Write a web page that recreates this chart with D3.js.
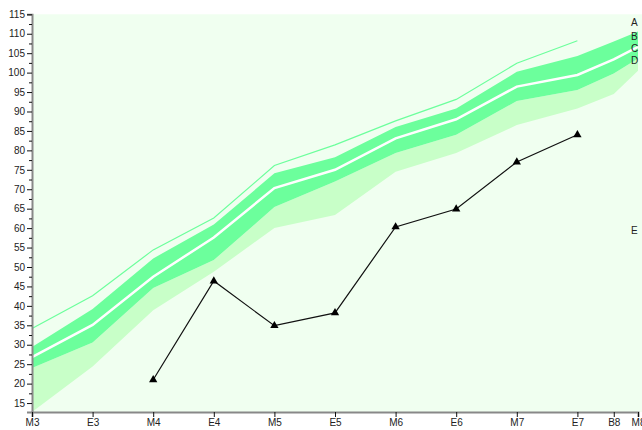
<!DOCTYPE html>
<html>
<head>
<meta charset="utf-8">
<script src="https://cdn.jsdelivr.net/npm/d3@7"></script>
<style>
  body { margin: 0; background: #fff; }
  svg { display: block; font-family: "Liberation Sans", Arial, sans-serif; }
  .tick text { font-size: 10px; fill: #222; }
  .label { font-size: 10px; fill: #222; }
</style>
</head>
<body>
<svg id="chart" width="642" height="430"></svg>
<script>
// x positions (month index) and their tick labels
const xVals = [3, 3.5, 4, 4.5, 5, 5.5, 6, 6.5, 7, 7.5, 7.8, 8];
const xLabels = ['M3', 'E3', 'M4', 'E4', 'M5', 'E5', 'M6', 'E6', 'M7', 'E7', 'B8', 'M8'];

// percentile bands
const outerLow = [12.7, 24.4, 38.9, 48.8, 60.0, 63.4, 74.5, 79.3, 86.5, 90.8, 94.5, 100.5];
const innerLow = [24.0, 30.6, 44.6, 51.8, 65.4, 72.0, 79.3, 84.0, 92.7, 95.5, 99.8, 103.6];
const median   = [26.8, 35.1, 47.5, 57.6, 70.3, 75.0, 83.1, 88.0, 96.4, 99.4, 103.4, 106.6];
const innerHigh = [29.4, 39.2, 52.2, 60.9, 74.1, 78.2, 86.0, 90.8, 100.2, 104.3, 108.0, 110.6];

// thin upper line, M3..E7
const upperLine = [34.2, 42.6, 54.4, 62.6, 76.1, 81.4, 87.6, 93.1, 102.4, 108.2];

// observed values, M4..E7
const obsX = [4, 4.5, 5, 5.5, 6, 6.5, 7, 7.5];
const obsY = [21.0, 46.4, 34.9, 38.2, 60.3, 64.9, 77.0, 84.0];

// series labels on the right
const seriesLabels = ['A', 'B', 'C', 'D', 'E'];
const labelVals = [113.0, 109.4, 106.3, 103.0, 59.5];

const svg = d3.select('#chart');
const W = +svg.attr('width'), H = +svg.attr('height');
const margin = { top: 14.3, right: 4, bottom: 18, left: 32 };

const x = d3.scaleLinear().domain([3, 8]).range([margin.left, W - margin.right]);
const y = d3.scaleLinear().domain([12.7, 115]).range([H - margin.bottom, margin.top]);

svg.append('rect')
  .attr('x', margin.left)
  .attr('y', margin.top)
  .attr('width', W - margin.left)
  .attr('height', H - margin.bottom - margin.top)
  .attr('fill', '#f0fff0');

const rows = xVals.map((v, i) => ({
  x: v, lo: outerLow[i], ilo: innerLow[i], med: median[i], ihi: innerHigh[i]
}));

const area = (a, b) => d3.area()
  .x(d => x(d.x))
  .y0(d => y(d[a]))
  .y1(d => y(d[b]));

svg.append('path')
  .datum(rows)
  .attr('d', area('lo', 'ilo'))
  .attr('fill', '#c8ffc8');

svg.append('path')
  .datum(rows)
  .attr('d', area('ilo', 'ihi'))
  .attr('fill', '#6cff9c');

const line = d3.line().x(d => x(d[0])).y(d => y(d[1]));

svg.append('path')
  .datum(rows.map(d => [d.x, d.med]))
  .attr('d', line)
  .attr('fill', 'none')
  .attr('stroke', '#fff')
  .attr('stroke-width', 2.5);

svg.append('path')
  .datum(upperLine.map((v, i) => [xVals[i], v]))
  .attr('d', line)
  .attr('fill', 'none')
  .attr('stroke', '#6cff9c')
  .attr('stroke-width', 1.2);

const obs = obsX.map((v, i) => [v, obsY[i]]);

svg.append('path')
  .datum(obs)
  .attr('d', line)
  .attr('fill', 'none')
  .attr('stroke', '#111')
  .attr('stroke-width', 1.2);

svg.selectAll('.marker')
  .data(obs)
  .enter().append('path')
  .attr('class', 'marker')
  .attr('transform', d => `translate(${x(d[0])},${y(d[1])})`)
  .attr('d', d3.symbol(d3.symbolTriangle, 30))
  .attr('fill', '#000');

// axes
const yAxis = svg.append('g')
  .attr('transform', `translate(${margin.left},0)`)
  .call(d3.axisLeft(y).tickValues(d3.range(15, 116, 5)).tickSize(5).tickPadding(2));

svg.append('g')
  .attr('transform', `translate(${margin.left},0)`)
  .call(d3.axisLeft(y).tickValues(d3.range(17.5, 115, 5)).tickSize(3).tickFormat(''))
  .call(g => g.select('.domain').remove());

const xAxis = svg.append('g')
  .attr('transform', `translate(0,${H - margin.bottom})`)
  .call(d3.axisBottom(x).tickValues(xVals).tickFormat((d, i) => xLabels[i]).tickSize(5).tickPadding(2));

[yAxis, xAxis].forEach(g => g.select('.domain')
  .attr('stroke', '#888')
  .attr('stroke-width', 2));
svg.selectAll('.tick line').attr('stroke', '#111');

svg.selectAll('.label')
  .data(seriesLabels)
  .enter().append('text')
  .attr('class', 'label')
  .attr('x', 631)
  .attr('y', (d, i) => y(labelVals[i]))
  .attr('dy', '0.35em')
  .text(d => d);
</script>
</body>
</html>
